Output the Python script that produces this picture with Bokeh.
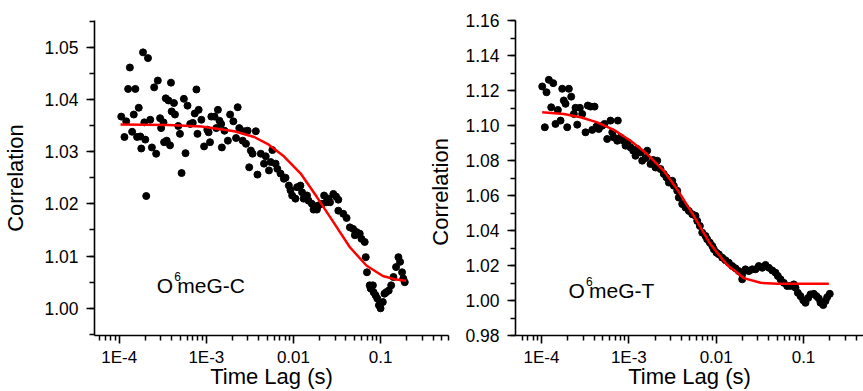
import numpy as np
from bokeh.plotting import figure
from bokeh.layouts import row
from bokeh.models import (Range1d, FixedTicker, SingleIntervalTicker,
                          CustomJSTickFormatter, PrintfTickFormatter, Label)
from bokeh.embed import file_html
from bokeh.resources import INLINE

# ---------------- data (time lag stored as log10 of seconds) ----------------
# O6meG-C : measured correlation
lag_c_log10 = [-3.977, -3.940, -3.920, -3.898, -3.878, -3.852, -3.833, -3.815, -3.795, -3.776,
               -3.758, -3.747, -3.727, -3.712, -3.701, -3.690, -3.670, -3.644, -3.625, -3.599,
               -3.576, -3.557, -3.531, -3.519, -3.492, -3.485, -3.466, -3.455, -3.435, -3.417,
               -3.406, -3.398, -3.372, -3.360, -3.322, -3.303, -3.284, -3.258, -3.239, -3.216,
               -3.185, -3.156, -3.133, -3.114, -3.102, -3.088, -3.057, -3.026, -2.989, -2.974,
               -2.958, -2.943, -2.906, -2.886, -2.867, -2.849, -2.830, -2.822, -2.792, -2.753,
               -2.727, -2.690, -2.659, -2.640, -2.622, -2.583, -2.565, -2.545, -2.526, -2.508,
               -2.489, -2.469, -2.432, -2.413, -2.375, -2.338, -2.318, -2.281, -2.242, -2.261,
               -2.205, -2.185, -2.148, -2.110, -2.091, -2.053, -2.034, -2.015, -1.977, -1.958,
               -1.920, -1.901, -1.883, -1.844, -1.826, -1.788, -1.769, -1.731, -1.713, -1.674,
               -1.648, -1.625, -1.599, -1.580, -1.542, -1.511, -1.485, -1.485, -1.428, -1.390,
               -1.352, -1.315, -1.295, -1.276, -1.239, -1.219, -1.182, -1.170, -1.156, -1.125,
               -1.114, -1.088, -1.080, -1.057, -1.038, -1.019, -1.000, -0.974, -0.955, -0.935,
               -0.906, -0.878, -0.852, -0.822, -0.795, -0.776, -0.753, -0.739, -0.722]
corr_c = [1.0367, 1.0328, 1.0358, 1.0420, 1.0461, 1.0338, 1.0371, 1.0420, 1.0328, 1.0384,
          1.0329, 1.0306, 1.0490, 1.0356, 1.0323, 1.0215, 1.0479, 1.0361, 1.0308, 1.0423,
          1.0296, 1.0436, 1.0364, 1.0345, 1.0356, 1.0318, 1.0402, 1.0321, 1.0398, 1.0312,
          1.0432, 1.0377, 1.0393, 1.0371, 1.0349, 1.0334, 1.0259, 1.0401, 1.0297, 1.0388,
          1.0353, 1.0355, 1.0373, 1.0419, 1.0334, 1.0380, 1.0361, 1.0310, 1.0342, 1.0337,
          1.0318, 1.0367, 1.0367, 1.0345, 1.0380, 1.0359, 1.0353, 1.0308, 1.0340, 1.0321,
          1.0371, 1.0358, 1.0326, 1.0385, 1.0345, 1.0321, 1.0339, 1.0315, 1.0340, 1.0270,
          1.0302, 1.0296, 1.0339, 1.0256, 1.0296, 1.0277, 1.0291, 1.0264, 1.0303, 1.0280,
          1.0277, 1.0267, 1.0258, 1.0248, 1.0250, 1.0235, 1.0226, 1.0216, 1.0210, 1.0232,
          1.0235, 1.0222, 1.0210, 1.0216, 1.0206, 1.0200, 1.0189, 1.0189, 1.0197, 1.0200,
          1.0216, 1.0203, 1.0210, 1.0203, 1.0219, 1.0214, 1.0208, 1.0187, 1.0181, 1.0173,
          1.0155, 1.0152, 1.0140, 1.0146, 1.0143, 1.0133, 1.0127, 1.0098, 1.0069, 1.0044,
          1.0038, 1.0044, 1.0031, 1.0025, 1.0019, 1.0006, 1.0000, 1.0012, 1.0028, 1.0031,
          1.0034, 1.0044, 1.0060, 1.0079, 1.0098, 1.0089, 1.0069, 1.0057, 1.0050]
# O6meG-C : fitted curve
fit_c_log10 = [-3.985, -3.435, -3.057, -2.678, -2.451, -2.299, -2.110, -1.917,
               -1.731, -1.545, -1.352, -1.163, -0.974, -0.822, -0.708]
fit_c = [1.0352, 1.0351, 1.0348, 1.0339, 1.0328, 1.0315, 1.0291, 1.0258,
         1.0213, 1.0166, 1.0117, 1.0082, 1.0062, 1.0055, 1.0053]

# O6meG-T : measured correlation
lag_t_log10 = [-3.992, -3.962, -3.943, -3.916, -3.866, -3.889, -3.840, -3.813, -3.782, -3.763,
               -3.745, -3.725, -3.706, -3.687, -3.660, -3.630, -3.611, -3.591, -3.561, -3.534,
               -3.496, -3.470, -3.439, -3.419, -3.393, -3.370, -3.344, -3.305, -3.279, -3.248,
               -3.210, -3.190, -3.172, -3.126, -3.133, -3.095, -3.064, -3.038, -3.012, -2.981,
               -2.950, -2.924, -2.904, -2.866, -2.847, -2.809, -2.790, -2.752, -2.721, -2.695,
               -2.675, -2.637, -2.600, -2.569, -2.542, -2.503, -2.485, -2.446, -2.428,
               -2.389, -2.351, -2.313, -2.274, -2.237, -2.217, -2.187, -2.160, -2.122, -2.103, -2.073,
               -2.045, -2.027, -1.996, -1.970, -1.931, -1.893, -1.855, -1.816, -1.779, -1.741,
               -1.702, -1.702, -1.664, -1.626, -1.587, -1.550, -1.512, -1.473, -1.435, -1.397,
               -1.358, -1.321, -1.294, -1.263, -1.226, -1.187, -1.149, -1.111, -1.092, -1.065,
               -1.034, -1.003, -0.977, -0.946, -0.920, -0.882, -0.851, -0.825, -0.805, -0.774,
               -0.748, -0.729, -0.699]
corr_t = [1.1223, 1.0990, 1.1190, 1.1261, 1.1242, 1.1104, 1.1009, 1.1089, 1.1028, 1.1210,
          1.1143, 1.1124, 1.0990, 1.1210, 1.1165, 1.1066, 1.1101, 1.1005, 1.1101, 1.1066,
          1.0961, 1.1114, 1.1108, 1.0975, 1.1108, 1.0994, 1.0980, 1.0999, 1.1009, 1.0923,
          1.1028, 1.0961, 1.0932, 1.1028, 1.0913, 1.0932, 1.0913, 1.0885, 1.0904, 1.0875,
          1.0856, 1.0827, 1.0866, 1.0846, 1.0799, 1.0814, 1.0856, 1.0780, 1.0803, 1.0760,
          1.0799, 1.0751, 1.0723, 1.0703, 1.0674, 1.0684, 1.0656, 1.0627, 1.0588,
          1.0551, 1.0531, 1.0512, 1.0493, 1.0484, 1.0455, 1.0426, 1.0388, 1.0369, 1.0350, 1.0331,
          1.0312, 1.0293, 1.0273, 1.0264, 1.0245, 1.0230, 1.0216, 1.0197, 1.0184, 1.0168,
          1.0121, 1.0150, 1.0178, 1.0168, 1.0178, 1.0178, 1.0197, 1.0187, 1.0203, 1.0187,
          1.0172, 1.0159, 1.0140, 1.0121, 1.0101, 1.0083, 1.0083, 1.0092, 1.0073, 1.0044,
          1.0025, 1.0001, 0.9987, 1.0015, 1.0035, 1.0038, 1.0025, 1.0012, 0.9987, 0.9974,
          0.9997, 1.0019, 1.0038]
# O6meG-T : fitted curve
fit_t_log10 = [-3.992, -3.745, -3.553, -3.362, -3.172, -2.981, -2.790, -2.600, -2.446,
               -2.256, -2.065, -1.874, -1.684, -1.492, -1.301, -1.034, -0.710]
fit_t = [1.1076, 1.1066, 1.1047, 1.1018, 1.0975, 1.0913, 1.0837, 1.0741, 1.0635,
         1.0484, 1.0321, 1.0203, 1.0128, 1.0101, 1.0096, 1.0096, 1.0096]

x_major_ticks = [1e-4, 1e-3, 1e-2, 1e-1]
x_minor_ticks = [m * 10.0 ** e for e in range(-5, 1) for m in range(2, 10)]

FONT = "Liberation Sans"
RED = "#ff0000"


def style_axes(p, y_interval, y_label):
    p.xgrid.visible = False
    p.ygrid.visible = False
    p.outline_line_color = None
    p.background_fill_color = "white"
    p.border_fill_color = "white"

    xa = p.xaxis[0]
    xa.ticker = FixedTicker(ticks=x_major_ticks, minor_ticks=x_minor_ticks)
    xa.formatter = CustomJSTickFormatter(
        code="return tick < 0.005 ? '1E' + Math.round(Math.log10(tick)) : String(tick);")
    xa.axis_label = "Time Lag (s)"
    xa.major_label_text_font_size = "17px"
    xa.major_label_standoff = 4
    xa.axis_label_standoff = -6

    ya = p.yaxis[0]
    ya.ticker = SingleIntervalTicker(interval=y_interval, num_minor_ticks=2)
    ya.formatter = PrintfTickFormatter(format="%.2f")
    ya.axis_label = y_label
    ya.major_label_text_font_size = "17.5px"
    ya.major_label_standoff = 8
    ya.axis_label_standoff = 13

    for ax in (xa, ya):
        ax.axis_line_color = "black"
        ax.axis_line_width = 1.6
        ax.major_tick_line_color = "black"
        ax.minor_tick_line_color = "black"
        ax.major_tick_line_width = 1.6
        ax.minor_tick_line_width = 1.5
        ax.major_tick_out = 8
        ax.major_tick_in = 0
        ax.minor_tick_out = 5
        ax.minor_tick_in = 0
        ax.major_label_text_font = FONT
        ax.major_label_text_color = "black"
        ax.axis_label_text_font = FONT
        ax.axis_label_text_font_size = "22px"
        ax.axis_label_text_font_style = "normal"
        ax.axis_label_text_color = "black"


def add_name(p, x, y, suffix):
    kw = dict(text_font=FONT, text_color="black", text_baseline="alphabetic",
              text_align="left")
    p.add_layout(Label(x=x, y=y, text="O", text_font_size="21px", **kw))
    p.add_layout(Label(x=x, y=y, x_offset=17.5, y_offset=9, text="6",
                       text_font_size="12px", **kw))
    p.add_layout(Label(x=x, y=y, x_offset=20.5, text="meG-" + suffix,
                       text_font_size="21px", **kw))


# ---------------- left panel ----------------
p1 = figure(width=455, height=391, x_axis_type="log",
            x_range=Range1d(10 ** -4.284, 10 ** -0.22),
            y_range=Range1d(0.9948, 1.0551),
            min_border_left=92, min_border_right=7,
            min_border_top=20, min_border_bottom=56,
            output_backend="svg", toolbar_location=None)
style_axes(p1, 0.01, "Correlation")
p1.scatter(10.0 ** np.array(lag_c_log10), corr_c, size=7, color="black")
p1.line(10.0 ** np.array(fit_c_log10), fit_c, line_color=RED, line_width=2.5)
add_name(p1, 2.70e-4, 1.0044, "C")
# y-axis title of the right-hand panel (sits in the gap between the panels)
p1.add_layout(Label(x=10 ** -0.315, y=1.0223, text="Correlation", angle=np.pi / 2,
                    text_align="center", text_baseline="middle", text_font=FONT,
                    text_font_size="22px", text_color="black"))

# ---------------- right panel ----------------
p2 = figure(width=408, height=391, x_axis_type="log",
            x_range=Range1d(10 ** -4.298, 10 ** -0.313),
            y_range=Range1d(0.98, 1.16),
            min_border_left=60, min_border_right=0,
            min_border_top=20, min_border_bottom=56,
            output_backend="svg", toolbar_location=None)
style_axes(p2, 0.02, None)
p2.scatter(10.0 ** np.array(lag_t_log10), corr_t, size=7, color="black")
p2.line(10.0 ** np.array(fit_t_log10), fit_t, line_color=RED, line_width=2.5)
add_name(p2, 2.04e-4, 1.006, "T")

layout = row(p1, p2)
open("out.html", "w").write(file_html(layout, INLINE))
